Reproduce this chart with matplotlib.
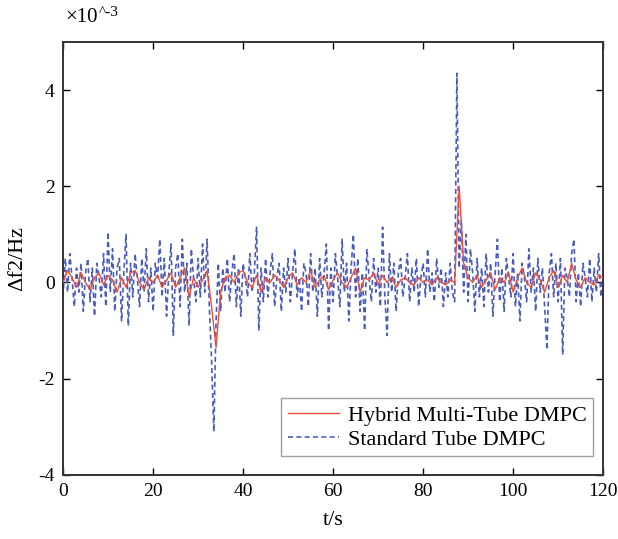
import numpy as np
import matplotlib
matplotlib.use("Agg")
import matplotlib.pyplot as plt

plt.rcParams['font.family'] = ['Liberation Serif', 'DejaVu Serif']
plt.rcParams['axes.unicode_minus'] = False

# sinais (x1e-3 Hz)
t_std = np.arange(0, 120.01, 0.5)
df_std = [
    -0.3, 0.5, -0.2, 0.6, 0.1, -0.5, 0.3, -0.2, 0.4, -0.6,
    0.2, 0.5, -0.4, 0.3, -0.7, 0.4, 0.1, -0.3, 0.6, -0.5,
    1.05, -0.2, 0.7, -0.6, 0.3, 0.5, -0.8, 0.2, 1.0, -0.9,
    0.4, -0.3, 0.6, 0.1, -0.5, 0.5, -0.2, 0.7, -0.4, 0.3,
    -0.6, 0.4, 0.1, 0.9, -0.3, 0.5, -0.7, 0.2, 0.8, -1.1,
    0.3, 0.6, -0.5, 0.9, -0.2, 0.4, -0.9, 0.7, 0.1, -0.4,
    0.5, -0.3, 0.8, -0.2, 0.9, -0.5, -1.6, -3.1, -0.8, 0.4,
    -0.6, 0.3, -0.2, 0.5, -0.4, 0.2, 0.6, -0.5, 0.3, -0.7,
    0.4, 0.1, -0.3, 0.6, -0.2, 0.2, 1.15, -1.0, 0.3, -0.4,
    0.5, -0.3, 0.2, 0.6, -0.5, 0.1, 0.4, -0.6, 0.3, -0.2,
    0.5, -0.4, 0.2, 0.7, -0.3, 0.1, -0.6, 0.4, 0.2, -0.5,
    0.6, -0.2, 0.3, -0.7, 0.5, -0.3, 0.2, 0.8, -1.0, 0.3,
    -0.4, 0.6, 0.1, -0.5, 0.9, -0.2, 0.4, -0.8, 0.3, 1.0,
    -0.3, 0.5, -0.6, 0.2, -1.0, 0.7, 0.1, -0.4, 0.5, -0.2,
    0.3, -0.5, 1.15, -0.3, -1.1, 0.6, -0.2, 0.4, -0.6, 0.2,
    0.5, -0.3, 0.1, 0.6, -0.4, 0.3, -0.2, 0.5, -0.5, 0.1,
    0.4, -0.3, 0.7, -0.2, 0.2, -0.4, 0.5, -0.1, 0.3, -0.5,
    0.2, -0.3, 0.4, -0.2, -0.4, 4.35, 0.3, 1.3, -0.2, 1.0,
    -0.4, 0.7, 0.2, -0.6, 0.5, -0.3, 0.3, -0.5, 0.6, -0.2,
    0.4, -0.7, 0.2, 0.9, -0.4, 0.3, -0.6, 0.5, 0.1, -0.3,
    0.6, -0.5, 0.2, -0.8, 0.4, 0.1, -0.4, 0.7, -0.2, 0.3,
    -0.6, 0.5, -0.2, 0.3, -0.5, -1.4, 0.2, 0.6, -0.3, 0.4,
    -0.4, 0.5, -1.5, 0.3, 0.1, -0.3, 0.6, 0.9, -0.4, 0.2,
    -0.5, 0.4, 0.1, -0.3, 0.5, -0.4, 0.3, -0.2, 0.6, -0.3,
    0.2,
]

t_hyb = np.arange(0, 121, 1)
df_hyb = [
    0.0, 0.25, 0.1, -0.1, 0.2, 0.0, -0.15, 0.1, 0.2, -0.05,
    0.15, 0.05, -0.2, 0.1, -0.1, 0.2, 0.25, 0.0, -0.15, 0.1,
    0.0, 0.15, -0.1, 0.05, 0.2, -0.1, 0.1, 0.3, -0.3, 0.1,
    -0.1, 0.05, 0.25, -0.5, -1.35, -0.2, 0.1, 0.15, 0.0, 0.2,
    0.25, 0.0, -0.1, 0.15, -0.2, 0.1, 0.0, 0.15, 0.05, -0.1,
    0.1, 0.2, -0.05, 0.1, 0.0, 0.25, -0.1, 0.05, 0.15, -0.15,
    0.05, 0.2, 0.0, -0.1, 0.1, 0.3, -0.2, 0.1, 0.05, 0.2,
    -0.05, 0.15, 0.0, 0.1, -0.1, 0.05, 0.1, 0.0, -0.05, 0.1,
    0.0, 0.05, -0.05, 0.1, 0.0, -0.05, 0.05, 0.0, 2.0, 0.4,
    0.1, 0.0, 0.15, -0.1, 0.05, 0.2, -0.15, 0.1, 0.0, 0.2,
    -0.2, 0.1, 0.3, 0.0, -0.1, 0.2, 0.05, -0.2, 0.1, 0.25,
    -0.1, 0.15, 0.0, 0.4, 0.05, -0.1, 0.1, 0.0, -0.05, 0.15,
    0.1,
]

fig = plt.figure(figsize=(6.18, 5.39), dpi=100)
ax = fig.add_axes([0.102, 0.119, 0.874, 0.803])

ax.plot(t_hyb, df_hyb, color='#e8503a', linewidth=1.0, label='Hybrid Multi-Tube DMPC', zorder=3)
ax.plot(t_std, df_std, color='#4a5bc0', linewidth=1.2, linestyle=(0, (3, 2)),
        label='Standard Tube DMPC', zorder=2)

ax.set_xlim(0, 120)
ax.set_ylim(-4, 5)
ax.set_xticks(np.arange(0, 121, 20))
ax.set_yticks([-4, -2, 0, 2, 4])
ax.tick_params(direction='in', top=True, right=True, labelsize=14, length=5, width=1, pad=6)
for s in ax.spines.values():
    s.set_linewidth(1.4)
    s.set_color('#333333')

ax.set_xlabel('t/s', fontsize=16, labelpad=8)
ax.set_ylabel('Δf2/Hz', fontsize=16, labelpad=8)

# multiplicador no canto superior
fig.text(0.105, 0.968, '×10', fontsize=15, ha='left', va='center')
fig.text(0.160, 0.976, '^-3', fontsize=11, ha='left', va='center')

leg = ax.legend(loc='lower right', bbox_to_anchor=(0.982, 0.043), fontsize=16,
                frameon=True, fancybox=False, borderpad=0.3, labelspacing=0.15,
                handlelength=2.3, handletextpad=0.4, borderaxespad=0)
leg.get_frame().set_edgecolor('#888888')
leg.get_frame().set_linewidth(1.0)

plt.savefig('out.png', dpi=100)
